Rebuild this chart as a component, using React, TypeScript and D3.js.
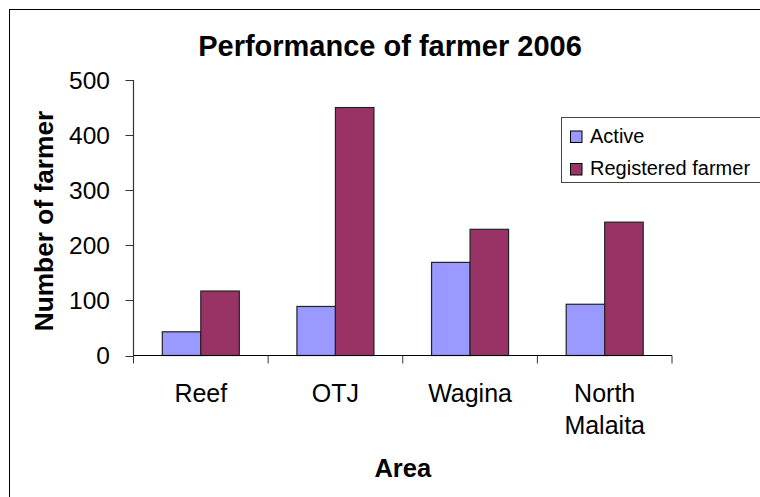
import React from "react";
import * as d3 from "d3";

const categories: string[][] = [["Reef"], ["OTJ"], ["Wagina"], ["North", "Malaita"]];
const seriesNames = ["Active", "Registered farmer"];
const activeValues = [43, 89, 169, 93];
const registeredValues = [117, 450, 229, 242];
const seriesColors = ["#9999FF", "#993366"];
const yTicks = [0, 100, 200, 300, 400, 500];

const FONT = "Liberation Sans, Arial, Helvetica, sans-serif";

export default function App() {
  const left = 133.5;
  const right = 672;
  const top = 80;
  const bottom = 355.5;
  const keys = categories.map((c) => c.join(" "));
  const x0 = d3.scaleBand<string>().domain(keys).range([left, right]).padding(0);
  const bw = x0.bandwidth();
  const x1 = d3
    .scaleBand<string>()
    .domain(seriesNames)
    .range([bw * 0.214, bw * 0.786])
    .padding(0);
  const y = d3.scaleLinear().domain([0, 500]).range([bottom, top]);
  const values = [activeValues, registeredValues];

  return (
    <svg
      width={760}
      height={497}
      style={{ position: "absolute", left: 0, top: 0, display: "block" }}
      fontFamily={FONT}
    >
      <rect x={0} y={0} width={760} height={497} fill="#fff" />
      <rect x={9.5} y={9.5} width={800} height={520} fill="none" stroke="#000" strokeWidth={1} />
      <text x={390} y={55.5} textAnchor="middle" fontSize={29} fontWeight="bold">
        Performance of farmer 2006
      </text>

      {/* bars */}
      {keys.map((k, ci) =>
        seriesNames.map((s, si) => {
          const v = values[si][ci];
          return (
            <rect
              key={k + s}
              x={(x0(k) as number) + (x1(s) as number)}
              y={y(v)}
              width={x1.bandwidth()}
              height={y(0) - y(v)}
              fill={seriesColors[si]}
              stroke="#222"
              strokeWidth={1.2}
            />
          );
        })
      )}

      {/* y axis */}
      <line x1={left} x2={left} y1={top} y2={bottom} stroke="#333" strokeWidth={1.2} />
      {yTicks.map((t) => (
        <g key={t}>
          <line x1={left - 8} x2={left} y1={Math.round(y(t)) + 0.5} y2={Math.round(y(t)) + 0.5} stroke="#333" strokeWidth={1} />
          <text x={110} y={y(t) + 8.5} textAnchor="end" fontSize={24.5}>
            {t}
          </text>
        </g>
      ))}

      {/* x axis */}
      <line x1={left} x2={right} y1={bottom} y2={bottom} stroke="#000" strokeWidth={1.2} />
      {[...keys.map((k) => x0(k) as number), right].map((px, i) => (
        <line key={i} x1={px} x2={px} y1={bottom} y2={bottom + 8} stroke="#333" strokeWidth={1} />
      ))}
      {categories.map((lines, ci) => (
        <text
          key={ci}
          x={(x0(keys[ci]) as number) + bw / 2}
          y={401.5}
          textAnchor="middle"
          fontSize={25}
        >
          {lines.map((ln, li) => (
            <tspan key={li} x={(x0(keys[ci]) as number) + bw / 2} dy={li === 0 ? 0 : 32.5}>
              {ln}
            </tspan>
          ))}
        </text>
      ))}

      <text x={(left + right) / 2} y={476.5} textAnchor="middle" fontSize={25.5} fontWeight="bold">
        Area
      </text>
      <text
        transform={`translate(52.5,221) rotate(-90)`}
        textAnchor="middle"
        fontSize={26.3}
        fontWeight="bold"
      >
        Number of farmer
      </text>

      {/* legend */}
      <rect x={561.5} y={117.5} width={260} height={65} fill="#fff" stroke="#444" strokeWidth={1} />
      {seriesNames.map((s, i) => (
        <g key={s}>
          <rect
            x={570.5}
            y={131 + i * 32.5}
            width={11.5}
            height={11.5}
            fill={seriesColors[i]}
            stroke="#000"
            strokeWidth={1}
          />
          <text x={590} y={142.5 + i * 32.7} fontSize={20}>
            {s}
          </text>
        </g>
      ))}
    </svg>
  );
}
